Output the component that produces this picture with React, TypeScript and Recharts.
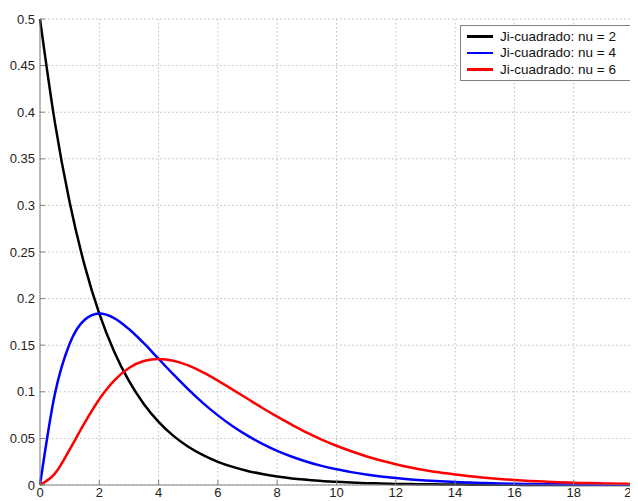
import React from "react";
import { CartesianGrid, Legend, Line, LineChart, XAxis, YAxis } from "recharts";

const xValues = [
  0, 0.5, 1, 1.5, 2, 2.5, 3, 3.5, 4, 4.5, 5, 5.5, 6, 6.5, 7, 7.5, 8, 8.5, 9, 9.5, 10,
  10.5, 11, 11.5, 12, 12.5, 13, 13.5, 14, 14.5, 15, 15.5, 16, 16.5, 17, 17.5, 18, 18.5, 19, 19.5, 20,
];

const nu2 = [
  0.5, 0.3894, 0.3033, 0.2362, 0.1839, 0.1433, 0.1116, 0.0869, 0.0677, 0.0527, 0.041, 0.032,
  0.0249, 0.0194, 0.0151, 0.0118, 0.0092, 0.0071, 0.0056, 0.0043, 0.0034, 0.0026, 0.002, 0.0016,
  0.0012, 0.001, 0.0008, 0.0006, 0.0005, 0.0004, 0.0003, 0.0002, 0.0002, 0.0001, 0.0001, 0.0001,
  0.0001, 0, 0, 0, 0,
];

const nu4 = [
  0, 0.0974, 0.1516, 0.1771, 0.1839, 0.1791, 0.1673, 0.1521, 0.1353, 0.1186, 0.1026, 0.0879,
  0.0747, 0.063, 0.0529, 0.0441, 0.0366, 0.0303, 0.025, 0.0205, 0.0168, 0.0138, 0.0112, 0.0091,
  0.0074, 0.006, 0.0049, 0.0039, 0.0032, 0.0026, 0.0021, 0.0017, 0.0013, 0.0011, 0.0009, 0.0007,
  0.0006, 0.0004, 0.0004, 0.0003, 0.0002,
];

const nu6 = [
  0, 0.0122, 0.0379, 0.0664, 0.092, 0.1119, 0.1255, 0.1331, 0.1353, 0.1334, 0.1283, 0.1208,
  0.112, 0.1024, 0.0925, 0.0826, 0.0733, 0.0646, 0.0562, 0.0488, 0.0421, 0.0362, 0.0309, 0.0263,
  0.0223, 0.0188, 0.0158, 0.0133, 0.0112, 0.0093, 0.0078, 0.0065, 0.0054, 0.0044, 0.0037, 0.003,
  0.0025, 0.0021, 0.0017, 0.0014, 0.0011,
];

const xTicks = [0, 2, 4, 6, 8, 10, 12, 14, 16, 18, 20];
const yTicks = [0, 0.05, 0.1, 0.15, 0.2, 0.25, 0.3, 0.35, 0.4, 0.45, 0.5];

const seriesNames = ["Ji-cuadrado: nu = 2", "Ji-cuadrado: nu = 4", "Ji-cuadrado: nu = 6"];
const seriesColors = ["#000000", "#0000ff", "#ff0000"];

const data = xValues.map((x, i) => ({ x, nu2: nu2[i], nu4: nu4[i], nu6: nu6[i] }));

const FONT = "'Liberation Sans', Arial, sans-serif";
const AXIS = "#808080";

function LegendBox() {
  return (
    <div
      style={{
        border: "1px solid #808080",
        background: "#fff",
        padding: "2px 0",
        fontFamily: FONT,
        fontSize: 13.5,
        color: "#111",
        boxSizing: "border-box",
      }}
    >
      {seriesNames.map((name, i) => (
        <div key={name} style={{ display: "flex", alignItems: "center", height: 16.5 }}>
          <div style={{ width: 26, height: 2.5, background: seriesColors[i], marginLeft: 6, marginRight: 7 }} />
          <span style={{ whiteSpace: "nowrap" }}>{name}</span>
        </div>
      ))}
    </div>
  );
}

export default function App() {
  return (
    <LineChart width={630} height={493} data={data} margin={{ top: 11, right: 5, bottom: 0, left: 0 }}>
      <CartesianGrid stroke="#bdbdbd" strokeDasharray="1.5 2.5" />
      <XAxis
        dataKey="x"
        type="number"
        domain={[0, 20]}
        ticks={xTicks}
        height={16}
        stroke={AXIS}
        tickSize={-5}
        tickMargin={8}
        tick={{ fill: "#222", fontSize: 13, fontFamily: FONT }}
      />
      <XAxis
        xAxisId="top"
        orientation="top"
        dataKey="x"
        type="number"
        domain={[0, 20]}
        ticks={xTicks}
        height={0}
        stroke={AXIS}
        tickSize={-5}
        tick={() => <g />}
      />
      <YAxis
        type="number"
        domain={[0, 0.5]}
        ticks={yTicks}
        width={32}
        stroke={AXIS}
        tickSize={-5}
        tickMargin={10}
        tick={{ fill: "#222", fontSize: 13, fontFamily: FONT }}
      />
      <YAxis
        yAxisId="right"
        orientation="right"
        type="number"
        domain={[0, 0.5]}
        ticks={yTicks}
        width={0}
        stroke={AXIS}
        tickSize={-5}
        tick={() => <g />}
      />
      <Legend
        layout="vertical"
        align="center"
        verticalAlign="middle"
        content={() => <LegendBox />}
        wrapperStyle={{ top: 17, left: 452, width: 173, height: 52 }}
      />
      <Line dataKey="nu2" name={seriesNames[0]} type="monotone" stroke={seriesColors[0]} strokeWidth={2.5} dot={false} isAnimationActive={false} />
      <Line dataKey="nu4" name={seriesNames[1]} type="monotone" stroke={seriesColors[1]} strokeWidth={2.5} dot={false} isAnimationActive={false} />
      <Line dataKey="nu6" name={seriesNames[2]} type="monotone" stroke={seriesColors[2]} strokeWidth={2.5} dot={false} isAnimationActive={false} />
    </LineChart>
  );
}
